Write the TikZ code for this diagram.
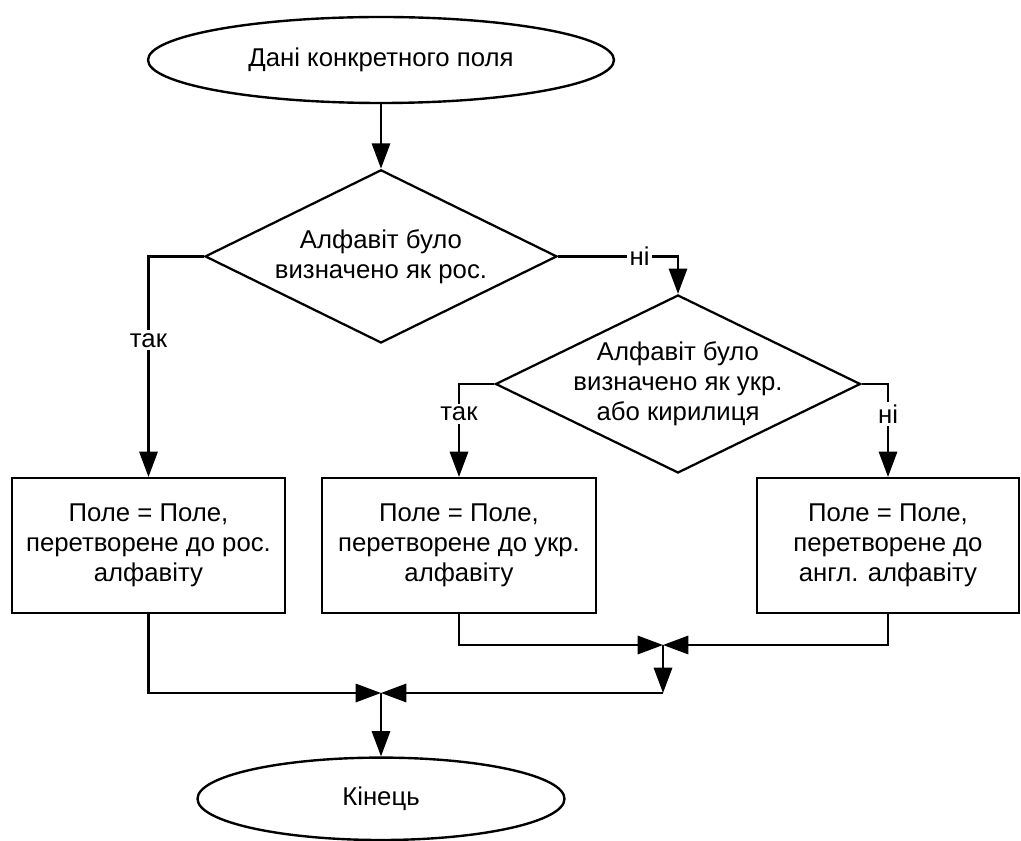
\documentclass[tikz,border=0pt]{standalone}
\usepackage{fontspec}
\setmainfont{Liberation Sans}
\usepackage{tikz}
\usetikzlibrary{shapes.geometric,arrows.meta,positioning,calc}

\begin{document}
\begin{tikzpicture}[
    txt/.style={font=\fontsize{18.3}{21.4}\selectfont, align=center},
    term/.style={ellipse, draw, line width=1.7pt, txt},
    decision/.style={diamond, draw, line width=1.6pt, aspect=2, inner sep=-5pt, txt},
    proc/.style={rectangle, draw, line width=1.6pt, minimum height=3.375cm, txt},
    lbl/.style={fill=white, inner sep=2pt, txt},
    arrow/.style={-{Triangle[length=18pt,width=13pt]}, line width=1.6pt}
]
    \useasboundingbox (0,0) rectangle (25.525,-21.025);

    % start and first check
    \node[term, minimum width=11.65cm, minimum height=2.15cm] (start) at (9.525,-1.5) {Дані конкретного поля};
    \node[decision, minimum width=8.8cm, minimum height=4.33cm] (dec1) at (9.525,-6.41) {Алфавіт було\\визначено як рос.};
    \node[decision, minimum width=9.125cm, minimum height=4.45cm] (dec2) at (16.95,-9.6) {Алфавіт було\\визначено як укр.\\або кирилиця};

    % conversions
    \node[proc, minimum width=6.825cm] (box1) at (3.7125,-13.64) {Поле = Поле,\\перетворене до рос.\\алфавіту};
    \node[proc, minimum width=6.85cm] (box2) at (11.475,-13.64) {Поле = Поле,\\перетворене до укр.\\алфавіту};
    \node[proc, minimum width=6.55cm] (box3) at (22.2,-13.64) {Поле = Поле,\\перетворене до\\англ. алфавіту};

    % joins and end
    \coordinate (J1) at (16.575,-16.125);
    \coordinate (c1) at (16.575,-17.325);
    \coordinate (J2) at (9.525,-17.325);
    \node[term, minimum width=9.175cm, minimum height=2.06cm] (stop) at (9.525,-19.97) {Кінець};

    \draw[arrow] (start) -- (dec1);
    \draw[arrow] (dec1.west) -| node[lbl, pos=0.69] {так} (box1.north);
    \draw[arrow] (dec1.east) -| node[lbl, pos=0.34] {ні} (dec2.north);
    \draw[arrow] (dec2.west) -| node[lbl, pos=0.66] {так} (box2.north);
    \draw[arrow] (dec2.east) -| node[lbl, pos=0.66] {ні} (box3.north);
    \draw[arrow] (box2.south) |- (J1);
    \draw[arrow] (box3.south) |- (J1);
    \draw[arrow] (J1) -- (c1);
    \draw[arrow] (c1) -- (J2);
    \draw[arrow] (box1.south) |- (J2);
    \draw[arrow] (J2) -- (stop);
\end{tikzpicture}
\end{document}
